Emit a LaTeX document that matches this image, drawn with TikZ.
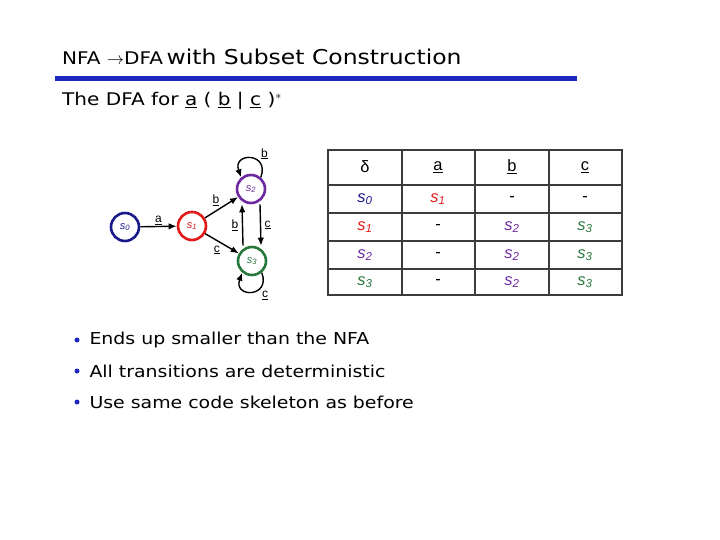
\documentclass[tikz,border=0pt]{standalone}
\usepackage{fontspec}
\setmainfont[FakeStretch=1.15]{DejaVu Sans}
\newfontfamily\tabfont{Liberation Sans}
\usetikzlibrary{positioning, arrows.meta}

\definecolor{slideblue}{RGB}{30,40,190}
\definecolor{szero}{RGB}{25,25,140}
\definecolor{sone}{RGB}{225,25,25}
\definecolor{stwo}{RGB}{110,40,160}
\definecolor{sthree}{RGB}{40,120,60}
\definecolor{gridgray}{RGB}{60,60,60}

\newcommand{\stname}[2]{\textcolor{#1}{\itshape s\textsubscript{#2}}}

\tikzset{
  dfastate/.style={circle, draw=#1, line width=2.6bp, minimum size=28bp, inner sep=0pt,
    text=#1, font=\tabfont\itshape\fontsize{11}{11}\selectfont},
  trans/.style={-{Latex[length=8bp,width=6.5bp]}, line width=1.4bp},
  edgelabel/.style={font=\tabfont\fontsize{12}{12}\selectfont, inner sep=1.5bp},
  cell/.style={font=\tabfont\fontsize{16.5}{16}\selectfont},
  bullettext/.style={anchor=west, font=\fontsize{16.5}{18}\selectfont}
}

\begin{document}
\begin{tikzpicture}[x=1bp, y=-1bp]
\useasboundingbox (0,0) rectangle (720,540);

% title and rule
\node[anchor=base west, inner sep=0pt] (title) at (62,65)
  {{\fontsize{17.5}{20}\selectfont NFA $\rightarrow$DFA} {\fontsize{20.5}{24}\selectfont with Subset Construction}};
\draw[slideblue, line width=5bp] (55,78.5) -- (577,78.5);
\node[anchor=base west, inner sep=0pt] (sub) at (62,106)
  {\fontsize{17.5}{20}\selectfont The DFA for \underline{a} ( \underline{b} | \underline{c} )$^*$};

% the automaton
\node[dfastate=szero] (s0) at (125,227) {s\textsubscript{0}};
\node[dfastate=sone] (s1) at (192,226) {s\textsubscript{1}};
\node[dfastate=stwo] (s2) at (251,189) {s\textsubscript{2}};
\node[dfastate=sthree] (s3) at (252,261) {s\textsubscript{3}};

\draw[trans] (s0) -- node[edgelabel, above] {\underline{a}} (s1);
\draw[trans] (s1) -- node[edgelabel, above left] {\underline{b}} (s2);
\draw[trans] (s1) -- node[edgelabel, below left] {\underline{c}} (s3);
\draw[trans] ([xshift=9bp]s2.south) -- node[edgelabel, right=2bp] {\underline{c}} ([xshift=9bp]s3.north);
\draw[trans] ([xshift=-9bp]s3.north) -- node[edgelabel, left=2bp] {\underline{b}} ([xshift=-9bp]s2.south);
\draw[trans] (s2.50) to[out=70, in=110, looseness=3.5] node[edgelabel, above right, pos=0.3] {\underline{b}} (s2.130);
\draw[trans] (s3.-50) to[out=-70, in=-110, looseness=3.5] node[edgelabel, below right, pos=0.3] {\underline{c}} (s3.-130);

% transition table
\draw[gridgray, line width=1.2bp] (328,150) rectangle (622,295);
\foreach \xx in {402,475,549}
  \draw[gridgray, line width=1.2bp] (\xx,150) -- (\xx,295);
\foreach \yy in {185,213,241,269}
  \draw[gridgray, line width=1.2bp] (328,\yy) -- (622,\yy);

\node[cell] (hd) at (365,167) {δ};
\node[cell] (ha) at (438,167) {\underline{a}};
\node[cell] (hb) at (512,167) {\underline{b}};
\node[cell] (hc) at (585,167) {\underline{c}};

\foreach \yy/\ea/\eb/\ec/\ed [count=\r] in {
    199/{\stname{szero}{0}}/{\stname{sone}{1}}/-/-,
    227/{\stname{sone}{1}}/-/{\stname{stwo}{2}}/{\stname{sthree}{3}},
    255/{\stname{stwo}{2}}/-/{\stname{stwo}{2}}/{\stname{sthree}{3}},
    282/{\stname{sthree}{3}}/-/{\stname{stwo}{2}}/{\stname{sthree}{3}}} {
  \node[cell] (r\r a) at (365,\yy) {\ea};
  \node[cell] (r\r b) at (438,\yy) {\eb};
  \node[cell] (r\r c) at (512,\yy) {\ec};
  \node[cell] (r\r d) at (585,\yy) {\ed};
}

% bullet points
\foreach \yy/\txt [count=\i] in {340/Ends up smaller than the NFA,
    371/All transitions are deterministic,
    402/Use same code skeleton as before} {
  \fill[slideblue] (77,\yy) circle (2.5bp);
  \node[bullettext] (item\i) at (86,\yy) {\txt};
}
\end{tikzpicture}
\end{document}
